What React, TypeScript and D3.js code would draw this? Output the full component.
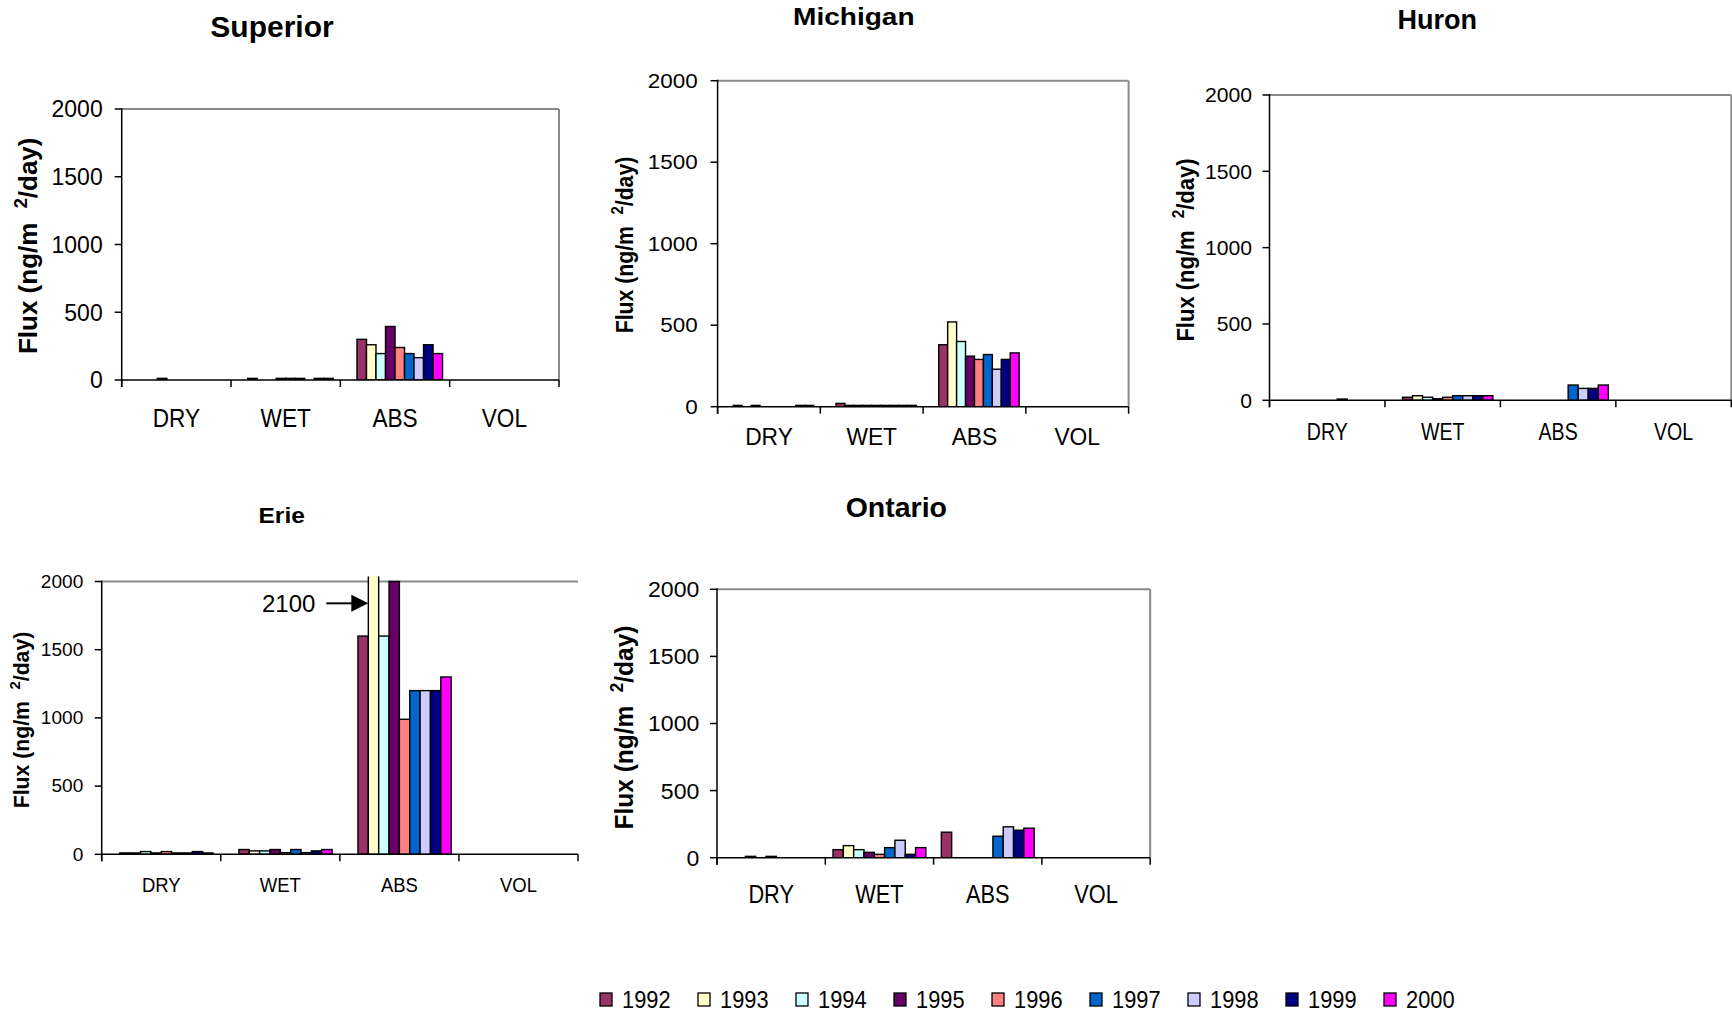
import React from "react";
import * as d3 from "d3";

// Sampling years (one bar per year in every category)
const YEARS = ["1992", "1993", "1994", "1995", "1996", "1997", "1998", "1999", "2000"];
const YEAR_COLORS = ["#993366", "#FFFFCC", "#CCFFFF", "#660066", "#FF8080", "#0066CC", "#CCCCFF", "#000080", "#FF00FF"];
const CATEGORIES = ["DRY", "WET", "ABS", "VOL"];
const Y_TICKS = [0, 500, 1000, 1500, 2000];
const Y_MAX = 2000;

// Flux (ng/m2/day), one value per year
const superiorDry = [0, 0, 12, 0, 0, 0, 0, 0, 0];
const superiorWet = [12, 0, 0, 12, 12, 12, 0, 12, 12];
const superiorAbs = [300, 260, 195, 395, 240, 195, 165, 260, 195];
const superiorVol = [0, 0, 0, 0, 0, 0, 0, 0, 0];

const michiganDry = [8, 0, 8, 0, 0, 0, 0, 8, 8];
const michiganWet = [20, 8, 8, 8, 8, 8, 8, 8, 8];
const michiganAbs = [380, 520, 400, 310, 290, 320, 230, 290, 330];
const michiganVol = [0, 0, 0, 0, 0, 0, 0, 0, 0];

const huronDry = [0, 0, 0, 0, 0, 8, 0, 0, 0];
const huronWet = [20, 30, 20, 10, 20, 30, 30, 30, 30];
const huronAbs = [0, 0, 0, 0, 0, 100, 78, 78, 100];
const huronVol = [0, 0, 0, 0, 0, 0, 0, 0, 0];

const erieDry = [10, 10, 20, 10, 20, 10, 10, 20, 10];
const erieWet = [35, 25, 25, 35, 12, 35, 12, 25, 35];
const erieAbs = [1600, 2100, 1600, 2000, 990, 1200, 1200, 1200, 1300];
const erieVol = [0, 0, 0, 0, 0, 0, 0, 0, 0];

const ontarioDry = [0, 0, 10, 0, 10, 0, 0, 0, 0];
const ontarioWet = [60, 90, 60, 40, 25, 75, 130, 25, 75];
const ontarioAbs = [190, 0, 0, 0, 0, 160, 230, 205, 220];
const ontarioVol = [0, 0, 0, 0, 0, 0, 0, 0, 0];

const FONT = "'Liberation Sans', Arial, Helvetica, sans-serif";

type TextStyle = { size: number; sx: number };
type PanelLayout = {
  title: string;
  series: number[][];
  left: number;
  right: number;
  top: number;
  bottom: number;
  leadingSlot: boolean;
  rightBorder: boolean;
  titlePos: [number, number];
  titleStyle: TextStyle;
  tickStyle: TextStyle;
  tickGap: number;
  yLabelPos: [number, number];
  yLabelStyle: TextStyle;
  catStyle: TextStyle;
  catBaseline: number;
  note?: { text: string; category: string; year: string; at: number };
};

const panels: PanelLayout[] = [
  {
    title: "Superior",
    series: [superiorDry, superiorWet, superiorAbs, superiorVol],
    left: 121.7, right: 559, top: 109, bottom: 380,
    leadingSlot: true, rightBorder: true,
    titlePos: [272, 36.7], titleStyle: { size: 30, sx: 1 },
    tickStyle: { size: 23, sx: 1 }, tickGap: 19,
    yLabelPos: [27.7, 245.8], yLabelStyle: { size: 26, sx: 1 },
    catStyle: { size: 26, sx: 0.87 }, catBaseline: 426.7,
  },
  {
    title: "Michigan",
    series: [michiganDry, michiganWet, michiganAbs, michiganVol],
    left: 717.6, right: 1128.6, top: 80.7, bottom: 406.7,
    leadingSlot: true, rightBorder: true,
    titlePos: [853.8, 25], titleStyle: { size: 23, sx: 1.22 },
    tickStyle: { size: 19.5, sx: 1.15 }, tickGap: 20,
    yLabelPos: [624.4, 245], yLabelStyle: { size: 21.2, sx: 1.15 },
    catStyle: { size: 23.5, sx: 0.97 }, catBaseline: 445,
  },
  {
    title: "Huron",
    series: [huronDry, huronWet, huronAbs, huronVol],
    left: 1269.5, right: 1731.3, top: 95, bottom: 400.3,
    leadingSlot: true, rightBorder: true,
    titlePos: [1437.3, 29.3], titleStyle: { size: 27, sx: 1 },
    tickStyle: { size: 20, sx: 1.06 }, tickGap: 17.4,
    yLabelPos: [1185.3, 250], yLabelStyle: { size: 22, sx: 1.06 },
    catStyle: { size: 23, sx: 0.85 }, catBaseline: 440,
  },
  {
    title: "Erie",
    series: [erieDry, erieWet, erieAbs, erieVol],
    left: 101.7, right: 578, top: 581.5, bottom: 854.3,
    leadingSlot: true, rightBorder: false,
    titlePos: [281.7, 522.7], titleStyle: { size: 22.3, sx: 1.1 },
    tickStyle: { size: 17.5, sx: 1.09 }, tickGap: 18.4,
    yLabelPos: [21, 720], yLabelStyle: { size: 21.2, sx: 1 },
    catStyle: { size: 21, sx: 0.88 }, catBaseline: 891.7,
    note: { text: "2100", category: "ABS", year: "1993", at: 1840 },
  },
  {
    title: "Ontario",
    series: [ontarioDry, ontarioWet, ontarioAbs, ontarioVol],
    left: 717, right: 1150.2, top: 589.3, bottom: 857.7,
    leadingSlot: false, rightBorder: true,
    titlePos: [896.3, 517.3], titleStyle: { size: 28.5, sx: 1 },
    tickStyle: { size: 22, sx: 1.05 }, tickGap: 17.6,
    yLabelPos: [624, 727.5], yLabelStyle: { size: 24.5, sx: 1.05 },
    catStyle: { size: 25.6, sx: 0.85 }, catBaseline: 903.3,
  },
];

function Label(props: {
  x: number; y: number; sx?: number; size: number; anchor?: string;
  weight?: string | number; rotate?: number; dy?: string; children: React.ReactNode;
}) {
  const { x, y, sx = 1, size, anchor = "middle", weight = "normal", rotate, dy, children } = props;
  const tf = `translate(${x},${y}) scale(${sx},1)${rotate ? ` rotate(${rotate})` : ""}`;
  return (
    <text transform={tf} fontSize={size} fontFamily={FONT} fontWeight={weight}
      textAnchor={anchor} dy={dy} fill="#000">
      {children}
    </text>
  );
}

function Panel({ p, idx }: { p: PanelLayout; idx: number }) {
  const x0 = d3.scaleBand<string>().domain(CATEGORIES).range([p.left, p.right]);
  const slots = p.leadingSlot ? ["", ...YEARS] : YEARS;
  const x1 = d3.scaleBand<string>().domain(slots).range([0, x0.bandwidth()])
    .paddingInner(0).paddingOuter(0.75);
  const y = d3.scaleLinear().domain([0, Y_MAX]).range([p.bottom, p.top]);
  const clipId = `clip-${idx}`;
  const edges = [...CATEGORIES.map((c) => x0(c) as number), p.right];
  const supSize = p.yLabelStyle.size * 0.7;
  const supRise = p.yLabelStyle.size * 0.4;

  return (
    <g>
      <defs>
        <clipPath id={clipId}>
          <rect x={p.left} y={p.top - 5} width={p.right - p.left} height={p.bottom - p.top + 5} />
        </clipPath>
      </defs>

      {/* frame */}
      <line x1={p.left} x2={p.right} y1={p.top} y2={p.top} stroke="#8a8a8a" strokeWidth={2} />
      {p.rightBorder && (
        <line x1={p.right} x2={p.right} y1={p.top} y2={p.bottom} stroke="#8a8a8a" strokeWidth={2} />
      )}

      {/* bars */}
      <g clipPath={`url(#${clipId})`}>
        {CATEGORIES.map((c, ci) =>
          YEARS.map((yr, yi) => {
            const v = p.series[ci][yi];
            if (!v) return null;
            return (
              <rect key={`${c}-${yr}`}
                x={(x0(c) as number) + (x1(yr) as number)}
                y={y(v)}
                width={x1.bandwidth()}
                height={y(0) - y(v)}
                fill={YEAR_COLORS[yi]} stroke="#000" strokeWidth={1.4} />
            );
          })
        )}
      </g>

      {/* y axis */}
      <line x1={p.left} x2={p.left} y1={p.top - 1} y2={p.bottom + 7} stroke="#000" strokeWidth={1.5} />
      {Y_TICKS.map((t) => (
        <g key={t}>
          <line x1={p.left - 7} x2={p.left} y1={y(t)} y2={y(t)} stroke="#000" strokeWidth={1.5} />
          <Label x={p.left - p.tickGap} y={y(t)} dy="0.36em" size={p.tickStyle.size}
            sx={p.tickStyle.sx} anchor="end">{t}</Label>
        </g>
      ))}

      {/* x axis */}
      <line x1={p.left} x2={p.right} y1={p.bottom} y2={p.bottom} stroke="#000" strokeWidth={1.5} />
      {edges.map((e, i) => (
        <line key={i} x1={e} x2={e} y1={p.bottom} y2={p.bottom + 7} stroke="#000" strokeWidth={1.5} />
      ))}
      {CATEGORIES.map((c) => (
        <Label key={c} x={(x0(c) as number) + x0.bandwidth() / 2} y={p.catBaseline}
          size={p.catStyle.size} sx={p.catStyle.sx}>{c}</Label>
      ))}

      {/* title */}
      <Label x={p.titlePos[0]} y={p.titlePos[1]} size={p.titleStyle.size} sx={p.titleStyle.sx}
        weight="bold">{p.title}</Label>

      {/* y label */}
      <Label x={p.yLabelPos[0]} y={p.yLabelPos[1]} size={p.yLabelStyle.size} sx={p.yLabelStyle.sx}
        weight="bold" rotate={-90} dy="0.36em">
        Flux (ng/m
        <tspan dx={p.yLabelStyle.size * 0.55} dy={-supRise} fontSize={supSize}>2</tspan>
        <tspan dy={supRise}>/day)</tspan>
      </Label>

      {/* off-scale value note */}
      {p.note && (() => {
        const tipX = (x0(p.note.category) as number) + (x1(p.note.year) as number);
        const tipY = y(p.note.at);
        return (
          <g>
            <line x1={tipX - 42} x2={tipX - 14} y1={tipY} y2={tipY} stroke="#000" strokeWidth={2} />
            <path d={`M${tipX},${tipY} L${tipX - 17},${tipY - 8.5} L${tipX - 17},${tipY + 8.5} Z`} fill="#000" />
            <Label x={tipX - 53} y={tipY} dy="0.36em" size={24} anchor="end">{p.note.text}</Label>
          </g>
        );
      })()}
    </g>
  );
}

function Legend() {
  const lx = d3.scaleBand<string>().domain(YEARS).range([600, 600 + 98 * YEARS.length]);
  return (
    <g>
      {YEARS.map((yr, i) => (
        <g key={yr}>
          <rect x={lx(yr) as number} y={993} width={12} height={13}
            fill={YEAR_COLORS[i]} stroke="#000" strokeWidth={1.3} />
          <Label x={(lx(yr) as number) + 22} y={1007.5} size={23} sx={0.95} anchor="start">{yr}</Label>
        </g>
      ))}
    </g>
  );
}

export default function App() {
  return (
    <svg width={1732} height={1016} viewBox="0 0 1732 1016"
      style={{ position: "absolute", left: 0, top: 0, display: "block" }}>
      <rect x={0} y={0} width={1732} height={1016} fill="#fff" />
      {panels.map((p, i) => (
        <Panel key={p.title} p={p} idx={i} />
      ))}
      <Legend />
    </svg>
  );
}
